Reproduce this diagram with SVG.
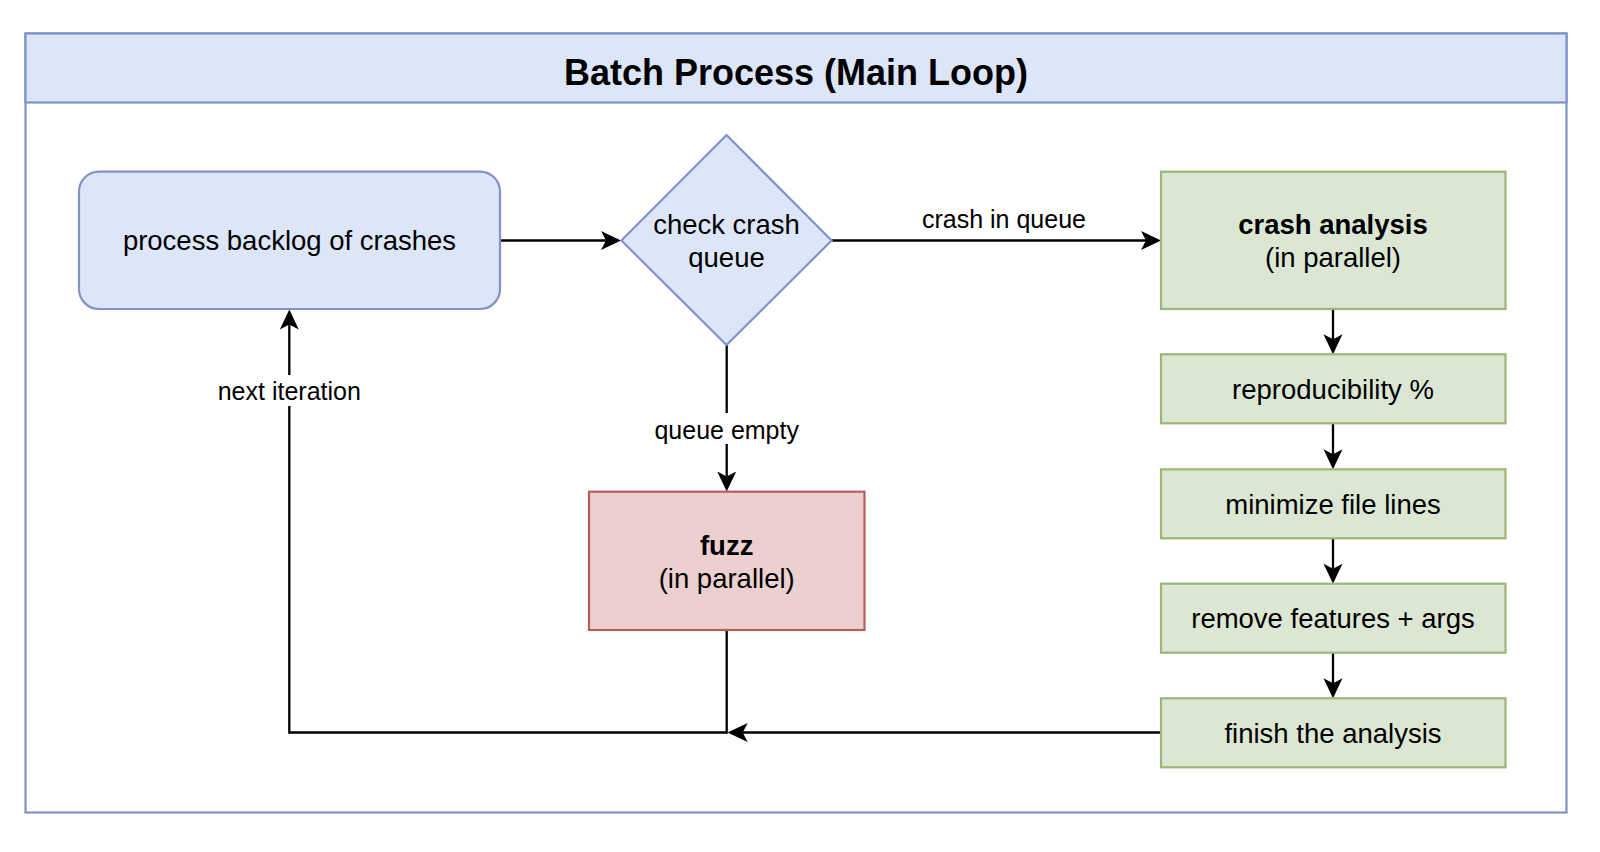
<svg xmlns="http://www.w3.org/2000/svg" width="1600" height="852" viewBox="0 0 1600 852">
<style>
text{font-family:"Liberation Sans",Arial,Helvetica,sans-serif;fill:#000;text-anchor:middle}
.n{font-size:27.5px}
.b{font-weight:bold}
.e{font-size:25px}
.blue{fill:#dde6f8;stroke:#8093c6;stroke-width:2.2}
.green{fill:#dbe6d3;stroke:#9db576;stroke-width:2.2}
.red{fill:#ebd0cf;stroke:#b55f5c;stroke-width:2.2}
.c{fill:none;stroke:#000;stroke-width:2.3}
</style>
<defs>
<marker id="arr" viewBox="0 0 20 20" refX="5" refY="10" markerWidth="20" markerHeight="20" markerUnits="userSpaceOnUse" orient="auto">
<path d="M0,0.5 L20,10 L0,19.5 L5,10 Z" fill="#000"/>
</marker>
</defs>
<rect width="1600" height="852" fill="#fff"/>
<g id="container">
<rect x="25.5" y="33.5" width="1541" height="779" fill="#fff" stroke="#8093c6" stroke-width="2.2"/>
<rect x="25.5" y="33.5" width="1541" height="69" class="blue"/>
<text x="796" y="84.5" class="b" font-size="36px">Batch Process (Main Loop)</text>
</g>
<g id="connectors">
<path class="c" d="M500,240.5 L606,240.5" marker-end="url(#arr)"/>
<path class="c" d="M832,240.5 L1146,240.5" marker-end="url(#arr)"/>
<text x="1004" y="228" class="e">crash in queue</text>
<path class="c" d="M726.7,345 L726.7,476.5" marker-end="url(#arr)"/>
<rect x="652" y="413" width="150" height="31" fill="#fff"/>
<text x="726.7" y="438.5" class="e">queue empty</text>
<path class="c" d="M1333,309 L1333,339.3" marker-end="url(#arr)"/>
<path class="c" d="M1333,423.3 L1333,454.3" marker-end="url(#arr)"/>
<path class="c" d="M1333,538.3 L1333,568.7" marker-end="url(#arr)"/>
<path class="c" d="M1333,652.7 L1333,683.3" marker-end="url(#arr)"/>
<path class="c" d="M1161,732.5 L742.7,732.5" marker-end="url(#arr)"/>
<path class="c" d="M726.7,630 L726.7,732.5 L289.3,732.5 L289.3,324.5" marker-end="url(#arr)"/>
<rect x="214" y="375" width="150" height="31" fill="#fff"/>
<text x="289.3" y="399.5" class="e">next iteration</text>
</g>
<g id="process-backlog">
<rect x="79" y="171.7" width="421" height="137.3" rx="20" class="blue"/>
<text x="289.5" y="250" class="n">process backlog of crashes</text>
</g>
<g id="check-crash-queue">
<polygon points="726.5,135 831.6,240.5 726.5,345 621.4,240.5" class="blue"/>
<text x="726.5" y="234" class="n">check crash</text>
<text x="726.5" y="267" class="n">queue</text>
</g>
<g id="crash-analysis">
<rect x="1161" y="171.7" width="344.5" height="137.3" class="green"/>
<text x="1333" y="234" class="n b">crash analysis</text>
<text x="1333" y="267" class="n">(in parallel)</text>
</g>
<g id="fuzz">
<rect x="589" y="491.7" width="275.5" height="138.3" class="red"/>
<text x="726.7" y="555" class="n b">fuzz</text>
<text x="726.7" y="588" class="n">(in parallel)</text>
</g>
<g id="reproducibility">
<rect x="1161" y="354.3" width="344.5" height="69" class="green"/>
<text x="1333" y="399" class="n">reproducibility %</text>
</g>
<g id="minimize">
<rect x="1161" y="469.3" width="344.5" height="69" class="green"/>
<text x="1333" y="513.5" class="n">minimize file lines</text>
</g>
<g id="remove-features">
<rect x="1161" y="583.7" width="344.5" height="69" class="green"/>
<text x="1333" y="628" class="n">remove features + args</text>
</g>
<g id="finish">
<rect x="1161" y="698.3" width="344.5" height="69" class="green"/>
<text x="1333" y="742.5" class="n">finish the analysis</text>
</g>
</svg>
